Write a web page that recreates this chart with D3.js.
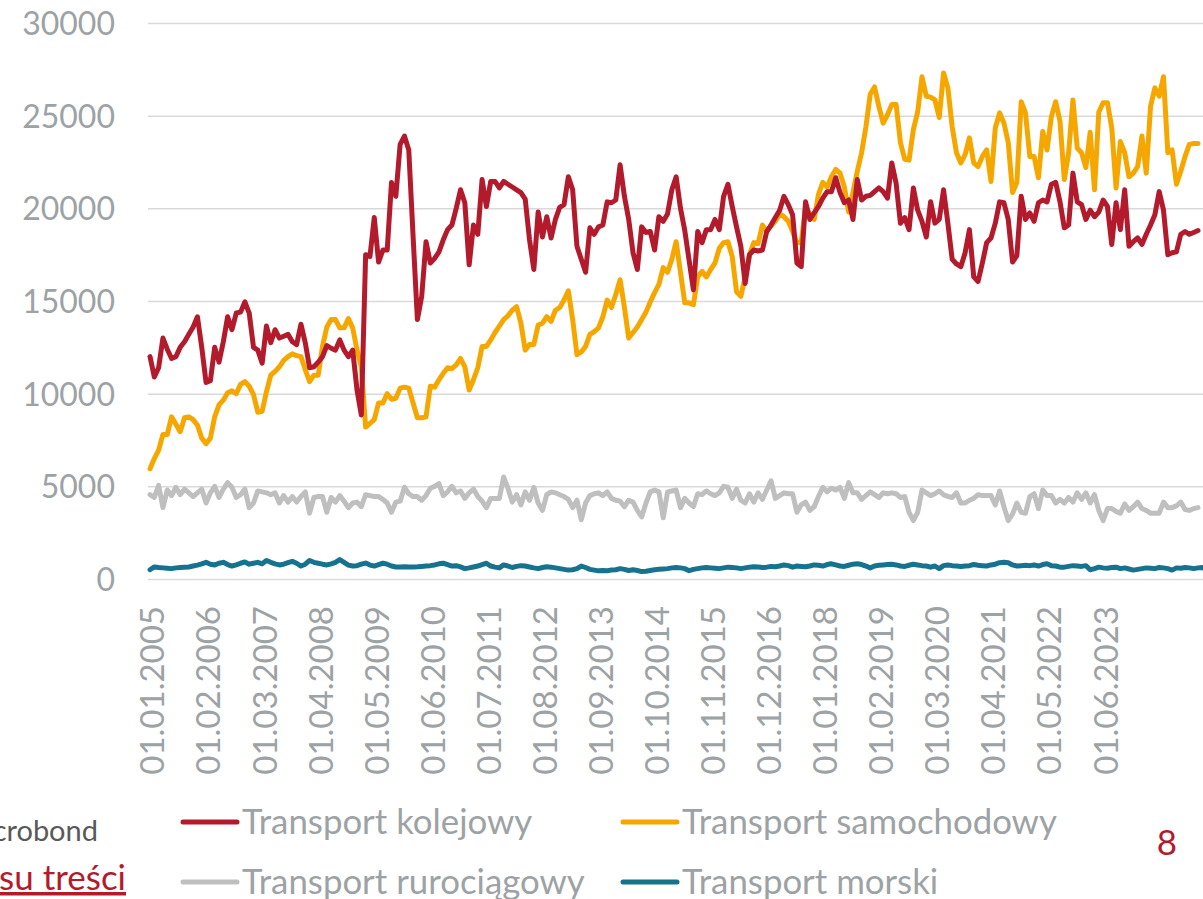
<!DOCTYPE html>
<html><head><meta charset="utf-8">
<script src="https://cdn.jsdelivr.net/npm/d3@7/dist/d3.min.js"></script>
<style>
html,body{margin:0;padding:0;background:#fff;overflow:hidden}
svg{display:block}
</style></head>
<body>
<svg id="c" width="1203" height="899"></svg>
<script>
// ---- DATA (monthly, 01.2005 – 04.2025) ----
const yTicks = [0, 5000, 10000, 15000, 20000, 25000, 30000];
const xTickLabels = ["01.01.2005","01.02.2006","01.03.2007","01.04.2008","01.05.2009","01.06.2010","01.07.2011","01.08.2012","01.09.2013","01.10.2014","01.11.2015","01.12.2016","01.01.2018","01.02.2019","01.03.2020","01.04.2021","01.05.2022","01.06.2023"];
const seriesNames = ["Transport kolejowy","Transport samochodowy","Transport rurociągowy","Transport morski"];

const kolejowy = [12000,10900,11400,13000,12400,11900,12000,12500,12800,13200,13600,14150,12500,10600,10700,12500,11700,12800,14150,13450,14350,14400,14950,14350,12500,12350,11650,13650,12750,13450,13000,13100,13200,12800,12650,13750,12750,11400,11450,11700,12000,12600,12450,12350,12900,12350,12000,12350,10200,8850,
17500,17400,19500,17100,17750,17750,21400,20650,23450,23900,23150,18500,14000,15250,18200,17050,17300,17650,18300,18850,19100,20000,21000,20300,16950,19100,18600,21550,20100,21450,21450,21100,21450,21300,21150,21000,20850,20500,18300,16700,
19800,18450,19550,18400,19400,20050,20200,21700,21000,17950,17250,16550,18950,18600,19000,19100,20350,20300,20450,22350,20650,19400,17600,16700,19000,18700,18750,17750,19550,19300,19700,21000,21700,20000,18800,17200,15600,18750,18150,18850,
18850,19400,18850,20650,21300,20100,19000,17950,15950,17500,17750,17700,17750,18750,19100,19500,19900,20650,20200,19650,17050,16850,20350,19400,19750,20100,20550,20900,20900,21650,20850,20300,20450,19400,21550,20450,20650,20700,20900,21100,
20900,20550,22450,21350,19200,19500,18850,21100,19900,19300,18450,20350,19200,19400,21000,19200,17250,17000,16850,17600,18850,16300,16050,17050,18150,18400,19200,20350,20300,19400,17100,17450,20650,19400,19750,19300,20300,20450,20350,21300,
21400,20350,18950,19100,21900,20350,20200,19400,19900,19550,19800,20450,20100,18050,20300,18850,21000,17950,18200,18400,18050,18600,19100,19650,20900,19900,17500,17600,17650,18600,18750,18600,18700,18800];

const samochodowy = [5950,6500,6950,7800,7800,8750,8350,7950,8700,8750,8600,8300,7600,7300,7600,8750,9400,9650,10050,10150,10000,10500,10650,10400,9950,9000,9050,10100,11000,11200,11450,11800,12000,12150,12050,12000,11300,10650,11000,11000,12550,13600,14000,14000,13550,13550,14050,13550,12350,11450,
8200,8400,8600,9500,9500,10000,9700,9750,10300,10350,10300,9500,8700,8700,8750,10400,10350,10750,11100,11400,11350,11550,11900,11450,10200,10750,11400,12550,12550,12900,13300,13650,14000,14200,14500,14700,13800,12350,12650,12650,
13700,13800,14150,13900,14500,14650,15050,15550,14000,12100,12250,12550,13200,13350,13550,14150,15050,14650,15350,16150,14650,13000,13300,13600,14000,14400,14950,15450,15900,16800,16550,17250,18200,16550,14900,14900,14800,16300,16600,16300,
16700,17050,17850,18150,18200,17400,15500,15250,16300,17500,18150,18100,19100,18750,19050,19300,19700,19550,19300,18750,18150,18150,20050,19700,19400,20750,21400,21150,21700,22100,21900,21150,19800,20850,22000,23000,24400,26150,26550,25500,
24600,25050,25600,25600,23550,22650,22600,24250,25200,27100,26050,26000,25850,24900,27300,26500,24400,23000,22450,22900,23800,22450,22250,22800,23150,21450,24350,25150,24600,23550,20850,21400,25750,25150,22800,22800,21650,24150,23150,24950,
25750,24700,21550,23000,25850,23250,23000,22200,24100,21000,25200,25700,25700,24350,21100,23600,23000,21700,21900,22250,23900,21900,25500,26500,26050,27100,23000,23150,21300,22000,22800,23450,23500,23500];

const rurociagowy = [4550,4400,5050,3850,4800,4500,4950,4550,4850,4650,4450,4650,4850,4100,4650,5000,4400,4850,5200,4950,4400,4550,4850,3850,4100,4750,4700,4650,4550,4650,4100,4500,4150,4450,4150,4450,4700,3550,4400,4450,4450,3600,4400,4150,4500,4200,3850,4100,4150,3900,
4550,4500,4450,4450,4300,4100,3600,4150,4200,4950,4600,4450,4450,4250,4500,4900,5000,5150,4500,4700,5000,4650,4750,4350,4650,4850,4450,4200,3850,4350,4350,4350,5500,4900,4150,4550,4000,4700,4250,4950,
4100,3700,4550,4700,4650,4550,4450,4300,3850,4250,3200,4100,4500,4600,4650,4500,4700,4350,4250,4200,3900,4250,4150,3700,3350,4100,4700,4800,4700,3300,4700,4750,4800,3850,4350,4100,3900,4600,4550,4750,
4600,4500,4650,5000,4950,4350,4850,4250,4100,4600,4150,4650,4300,4800,5300,4350,4500,4650,4600,4600,3600,4000,4150,3700,3900,4450,4950,4700,4900,4800,4950,4350,5200,4650,4650,4300,4500,4700,4550,4400,
4650,4600,4650,4600,4400,4450,3600,3150,3600,4800,4650,4500,4600,4750,4550,4450,4400,4650,4100,4100,4250,4350,4550,4500,4500,4500,4000,4750,3900,3150,3500,4100,3600,3550,4450,4600,3800,4800,4500,4500,
4100,4300,4100,4400,4150,4650,4300,4650,4100,4550,3700,3150,3800,3800,3650,3550,4050,3700,3900,4150,3800,3700,3550,3550,3550,4150,3850,3850,3950,4150,3750,3700,3800,3850];

const morski = [500,650,620,600,580,560,600,620,640,650,700,750,820,900,800,760,850,900,780,700,760,850,920,800,850,900,820,1000,900,820,760,800,880,950,850,700,800,1000,900,850,800,760,820,900,1050,900,750,700,720,800,
860,750,700,780,850,800,700,650,650,660,650,650,660,680,700,720,760,820,850,780,700,720,650,560,600,650,700,780,850,700,640,600,760,700,620,680,720,700,650,600,560,620,660,640,600,560,520,480,500,560,
700,620,520,480,440,460,450,480,500,560,520,460,500,460,400,420,460,500,520,540,560,600,620,600,560,450,520,560,600,620,600,580,560,600,640,620,600,560,600,640,660,650,620,640,680,660,700,760,720,640,
700,680,660,700,760,740,700,780,820,760,700,680,740,800,820,780,700,600,700,740,760,780,800,760,700,680,740,800,760,720,700,640,700,560,720,760,720,700,680,700,720,780,740,720,700,760,800,880,900,880,
760,700,720,740,720,760,700,780,820,720,700,640,640,680,720,700,680,720,500,560,640,600,580,620,640,560,600,540,480,520,560,600,580,560,620,600,560,480,600,580,620,600,560,600,620,500,480,430];

const series = [
  {name: seriesNames[0], values: kolejowy, color: "#B31B2C"},
  {name: seriesNames[1], values: samochodowy, color: "#F5A700"},
  {name: seriesNames[2], values: rurociagowy, color: "#BFBFBF"},
  {name: seriesNames[3], values: morski, color: "#15738F"}
];

// ---- CHART ----
const svg = d3.select("#c");
const FONT = "Lato, 'Open Sans', sans-serif";
const n = kolejowy.length;
const x = d3.scaleLinear().domain([0, n - 1]).range([150, 1198]);
const y = d3.scaleLinear().domain([0, 30000]).range([579, 23]);

// gridlines + y labels
const yAxis = d3.axisLeft(y).tickValues(yTicks).tickSize(-(1203 - 148)).tickPadding(33).tickFormat(d3.format("d"));
const gy = svg.append("g").attr("transform", "translate(148,0)").call(yAxis);
gy.select(".domain").remove();
gy.selectAll(".tick line").attr("stroke", "#D9D9D9").attr("stroke-width", 1.5);
gy.selectAll(".tick text").attr("fill", "#9DA2A5").style("font-family", FONT).style("font-size", "32px").attr("dy", "0.36em");

// x labels (every 13th month)
const labelIdx = xTickLabels.map((_, k) => k * 13);
const xAxis = d3.axisBottom(x).tickValues(labelIdx).tickSize(0).tickFormat((d, k) => xTickLabels[k]);
const gx = svg.append("g").attr("transform", "translate(0,579)").call(xAxis);
gx.select(".domain").remove();
gx.selectAll(".tick text")
  .attr("fill", "#9DA2A5").style("font-family", FONT).style("font-size", "33px")
  .attr("text-anchor", "end").attr("transform", "rotate(-90)")
  .attr("x", -27).attr("y", 2).attr("dy", "0.36em");

// lines
const line = d3.line().x((d, i) => x(i)).y(d => y(d)).curve(d3.curveLinear);
svg.append("g").selectAll("path").data(series.slice().reverse()).join("path")
  .attr("d", d => line(d.values))
  .attr("fill", "none").attr("stroke", d => d.color)
  .attr("stroke-width", 5).attr("stroke-linejoin", "round").attr("stroke-linecap", "round");

// legend
const legPos = [[183, 822], [623, 822], [183, 882], [623, 882]];
const leg = svg.append("g").selectAll("g").data(series).join("g")
  .attr("transform", (d, i) => `translate(${legPos[i][0]},${legPos[i][1]})`);
leg.append("line").attr("x1", 0).attr("x2", 54).attr("y1", 0).attr("y2", 0)
  .attr("stroke", d => d.color).attr("stroke-width", 5).attr("stroke-linecap", "round");
leg.append("text").attr("x", 59).attr("y", 0).attr("dy", "0.35em")
  .attr("fill", "#9DA2A5").style("font-family", FONT).style("font-size", "34.8px").text(d => d.name);

// footer texts
svg.append("text").attr("x", 98).attr("y", 841).attr("text-anchor", "end")
  .attr("fill", "#595959").style("font-family", FONT).style("font-size", "29px").text("Źródło: Macrobond");
svg.append("text").attr("x", 126).attr("y", 890).attr("text-anchor", "end")
  .attr("fill", "#B31B2C").style("font-family", FONT).style("font-size", "35px")
  .style("text-decoration", "underline").text("Powrót do spisu treści");
svg.append("text").attr("x", 1167).attr("y", 855).attr("text-anchor", "middle")
  .attr("fill", "#B31B2C").style("font-family", FONT).style("font-size", "35px").text("8");
</script>
</body></html>
